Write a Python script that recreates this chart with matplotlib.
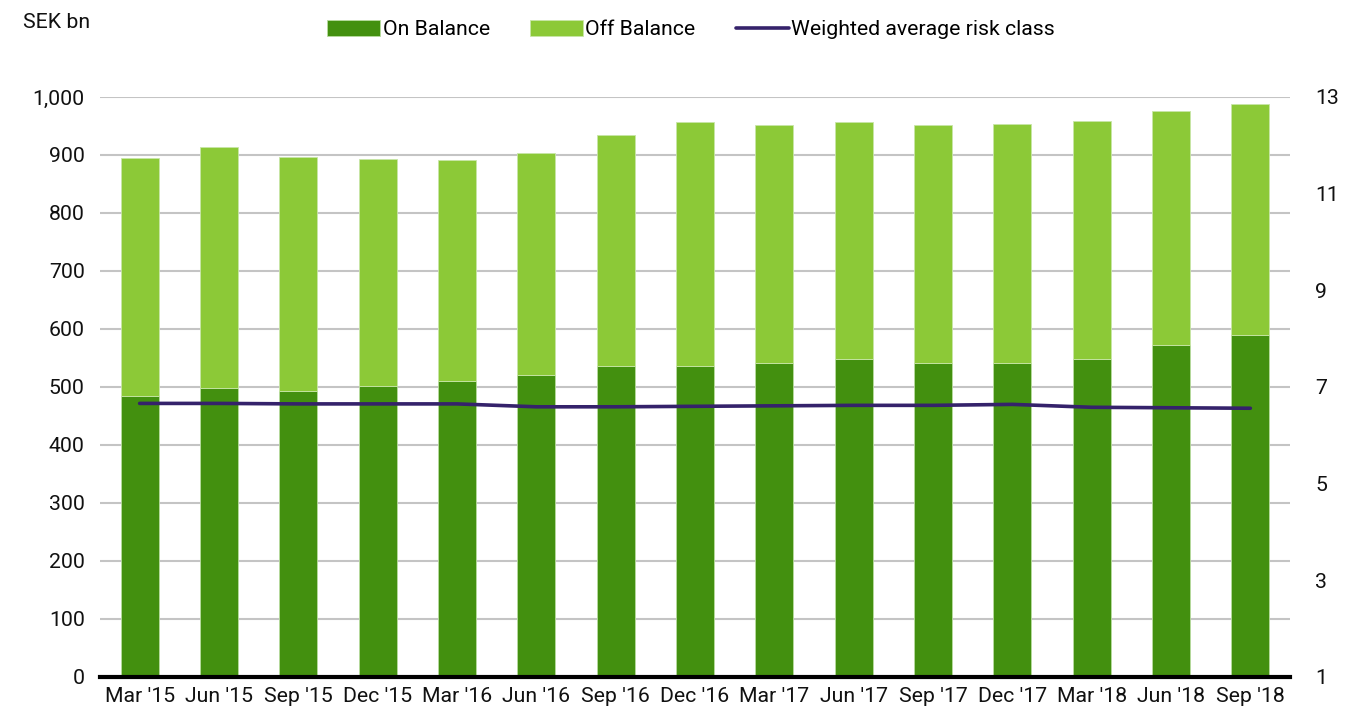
import matplotlib
matplotlib.use("Agg")
import matplotlib.pyplot as plt
import numpy as np

categories = ["Mar '15", "Jun '15", "Sep '15", "Dec '15", "Mar '16", "Jun '16", "Sep '16",
              "Dec '16", "Mar '17", "Jun '17", "Sep '17", "Dec '17", "Mar '18", "Jun '18", "Sep '18"]
on_balance = [484, 498, 493, 502, 511, 520, 537, 537, 542, 549, 541, 541, 549, 572, 589]
total = [894, 913, 896, 893, 891, 904, 935, 956, 952, 956, 951, 954, 958, 976, 988]
off_balance = [t - o for t, o in zip(total, on_balance)]
risk_class = [6.66, 6.66, 6.65, 6.65, 6.65, 6.59, 6.59, 6.60, 6.61, 6.62, 6.62, 6.64, 6.58, 6.57, 6.56]

left_ticks = list(range(0, 1001, 100))
right_ticks = [1, 3, 5, 7, 9, 11, 13]

plt.rcParams['font.family'] = ['Roboto', 'DejaVu Sans']
FS = 15.3
C_ON = "#43900f"
C_OFF = "#8cc937"
C_LINE = "#35226b"

fig = plt.figure(figsize=(13.47, 7.13), dpi=100)
ax = fig.add_axes([0.0742, 0.0505, 0.8835, 0.8135])
x = np.arange(len(categories))
w = 0.48
b1 = ax.bar(x, on_balance, w, color=C_ON, edgecolor="#b9dca0", linewidth=0.6, label="On Balance", zorder=2)
b2 = ax.bar(x, off_balance, w, bottom=on_balance, color=C_OFF, edgecolor="#c8e6a8", linewidth=0.6,
            label="Off Balance", zorder=2)
ax.set_xlim(-0.5, len(categories) - 0.5)
ax.set_ylim(0, 1000)
ax.set_yticks(left_ticks)
ax.set_yticklabels([f"{v:,}" for v in left_ticks])
ax.set_xticks(x)
ax.set_xticklabels(categories)
ax.grid(axis="y", color="#c4c4c4", linewidth=1.5, zorder=0)
ax.set_axisbelow(True)
for s in ["top", "right", "left"]:
    ax.spines[s].set_visible(False)
ax.spines["bottom"].set_linewidth(3)
ax.spines["bottom"].set_color("black")
ax.spines["bottom"].set_zorder(5)
ax.tick_params(axis="both", length=0, labelsize=FS, colors="#111111")
ax.tick_params(axis="y", pad=11)
ax.tick_params(axis="x", pad=7)

ax2 = ax.twinx()
ln, = ax2.plot(x, risk_class, color=C_LINE, linewidth=2.6, label="Weighted average risk class",
               solid_capstyle="round", zorder=4)
ax2.set_ylim(1, 13)
ax2.set_yticks(right_ticks)
for s in ["top", "right", "left", "bottom"]:
    ax2.spines[s].set_visible(False)
ax2.tick_params(axis="y", length=0, labelsize=FS, colors="#111111", pad=18)

fig.text(0.017, 0.982, "SEK bn", fontsize=FS, va="top", ha="left", color="#111111")

fig.legend(handles=[b1, b2, ln], labels=["On Balance", "Off Balance", "Weighted average risk class"],
           loc="center", bbox_to_anchor=(0.513, 0.958), ncol=3, frameon=False, fontsize=FS,
           handlelength=2.5, handleheight=0.72, handletextpad=0.1, columnspacing=1.9)

fig.savefig("out.png", dpi=100)
